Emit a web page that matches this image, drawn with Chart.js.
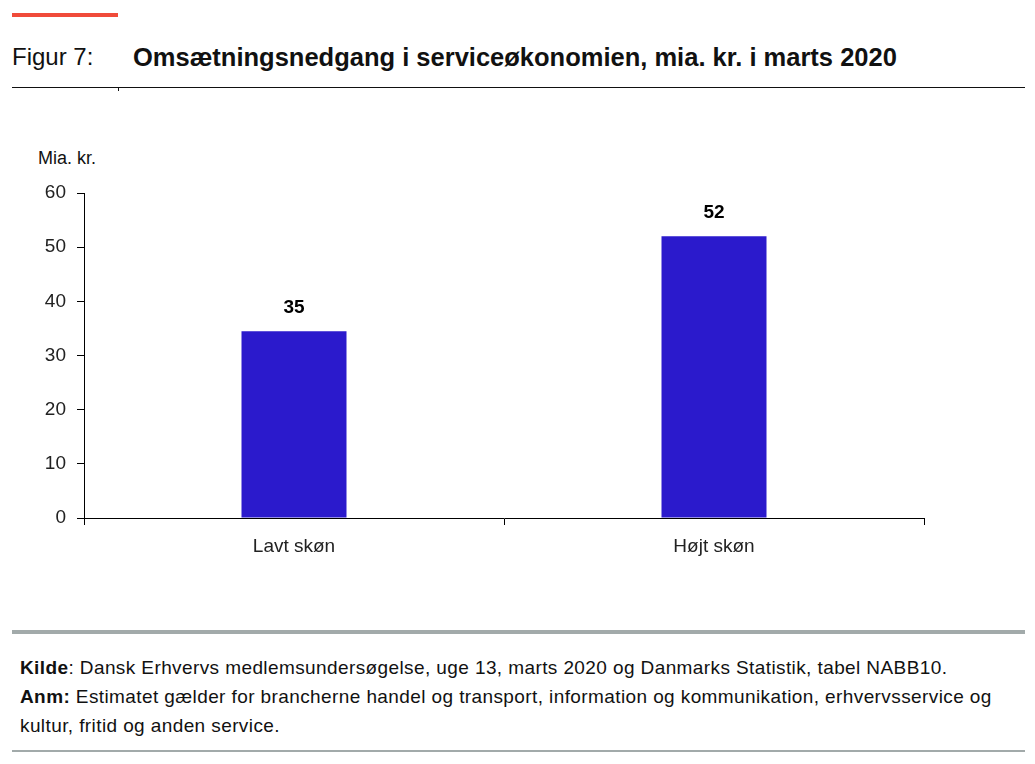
<!DOCTYPE html>
<html>
<head>
<meta charset="utf-8">
<script src="https://cdn.jsdelivr.net/npm/chart.js@4.4.1/dist/chart.umd.min.js"></script>
<style>
    html, body {
        margin: 0;
        padding: 0;
        background: #fff;
        width: 1035px;
        height: 764px;
        overflow: hidden;
        font-family: "Liberation Sans", Arial, sans-serif;
        color: #111;
    }
    .red-bar {
        position: absolute;
        left: 12px;
        top: 13px;
        width: 106px;
        height: 4px;
        background: #f04b3a;
    }
    .fig-label {
        position: absolute;
        left: 12px;
        top: 43px;
        font-size: 24px;
        font-weight: 300;
    }
    .fig-title {
        position: absolute;
        left: 133px;
        top: 43px;
        font-size: 25.5px;
        font-weight: bold;
    }
    .title-rule {
        position: absolute;
        left: 12px;
        top: 87px;
        width: 1013px;
        height: 1px;
        background: #111;
    }
    .title-tick {
        position: absolute;
        left: 118px;
        top: 87px;
        width: 1px;
        height: 4px;
        background: #111;
    }
    .unit {
        position: absolute;
        left: 38px;
        top: 148px;
        font-size: 18px;
        color: #111;
    }
    #chart-wrap {
        position: absolute;
        left: 0;
        top: 140px;
        width: 1035px;
        height: 430px;
    }
    .rule-top {
        position: absolute;
        left: 12px;
        top: 630px;
        width: 1013px;
        height: 4px;
        background: #a2aaaa;
    }
    .footer {
        position: absolute;
        left: 20px;
        top: 653px;
        width: 1000px;
        font-size: 19px;
        letter-spacing: 0.4px;
        line-height: 29px;
        color: #111;
    }
    .rule-bottom {
        position: absolute;
        left: 12px;
        top: 750px;
        width: 1013px;
        height: 2px;
        background: #a2aaaa;
    }
</style>
</head>
<body>
<div class="red-bar"></div>
<div class="fig-label">Figur 7:</div>
<div class="fig-title">Omsætningsnedgang i serviceøkonomien, mia. kr. i marts 2020</div>
<div class="title-rule"></div>
<div class="title-tick"></div>
<div class="unit">Mia. kr.</div>
<div id="chart-wrap"><canvas id="chart"></canvas></div>
<div class="rule-top"></div>
<div class="footer">
    <div><b>Kilde</b>: Dansk Erhvervs medlemsundersøgelse, uge 13, marts 2020 og Danmarks Statistik, tabel NABB10.</div>
    <div><b>Anm:</b> Estimatet gælder for brancherne handel og transport, information og kommunikation, erhvervsservice og<br>kultur, fritid og anden service.</div>
</div>
<div class="rule-bottom"></div>

<script>
const categories = ["Lavt skøn", "Højt skøn"];
const values = [34.5, 52];
const valueLabels = ["35", "52"];
const yTicks = [0, 10, 20, 30, 40, 50, 60];

const barColor = "#2b1acc";

// draws the bold numbers above each bar
const barLabels = {
    id: "barLabels",
    afterDatasetsDraw(chart) {
        const ctx = chart.ctx;
        const meta = chart.getDatasetMeta(0);
        ctx.save();
        ctx.font = "bold 19px 'Liberation Sans', Arial, sans-serif";
        ctx.fillStyle = "#000";
        ctx.textAlign = "center";
        ctx.textBaseline = "bottom";
        meta.data.forEach((bar, i) => {
            ctx.fillText(valueLabels[i], bar.x, bar.y - 14);
        });
        ctx.restore();
    }
};

const ctx = document.getElementById("chart").getContext("2d");
new Chart(ctx, {
    type: "bar",
    data: {
        labels: categories,
        datasets: [{
            data: values,
            backgroundColor: barColor,
            borderWidth: 0,
            barPercentage: 0.25,
            categoryPercentage: 1.0,
        }],
    },
    options: {
        responsive: true,
        maintainAspectRatio: false,
        animation: false,
        layout: {
            padding: { left: 0, right: 111, top: 53, bottom: 0 },
        },
        plugins: {
            legend: { display: false },
            tooltip: { enabled: false },
        },
        scales: {
            x: {
                offset: true,
                grid: {
                    offset: true,
                    drawOnChartArea: false,
                    tickLength: 7,
                    color: "#000",
                    lineWidth: 1,
                },
                border: { color: "#000", width: 1 },
                ticks: {
                    color: "#222",
                    font: { size: 19, family: "'Liberation Sans', Arial, sans-serif" },
                    padding: 10,
                },
                afterFit(scale) {
                    scale.height = 52;
                },
            },
            y: {
                min: 0,
                max: 60,
                afterBuildTicks(scale) {
                    scale.ticks = yTicks.map(v => ({ value: v }));
                },
                grid: {
                    drawOnChartArea: false,
                    tickLength: 7,
                    color: "#000",
                    lineWidth: 1,
                },
                border: { color: "#000", width: 1 },
                ticks: {
                    color: "#222",
                    font: { size: 19, family: "'Liberation Sans', Arial, sans-serif" },
                    padding: 11,
                },
                afterFit(scale) {
                    scale.width = 84;
                },
            },
        },
    },
    plugins: [barLabels],
});
</script>
</body>
</html>
